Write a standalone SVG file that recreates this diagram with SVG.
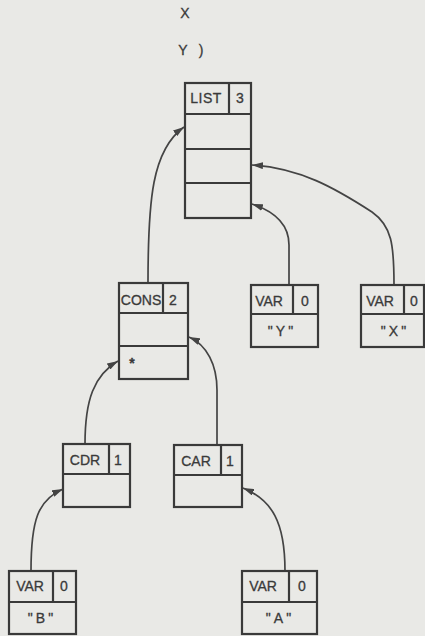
<svg xmlns="http://www.w3.org/2000/svg" width="425" height="636" viewBox="0 0 425 636">
<style>
.bg{fill:#e9e9e6}
.box{fill:none;stroke:#3a3a3a;stroke-width:2.2}
.div{stroke:#3a3a3a;stroke-width:2.2}
.t{font-family:"Liberation Sans",Arial,sans-serif;font-size:14px;fill:#3a3a3a;stroke:#3a3a3a;stroke-width:0.3;text-anchor:middle}
.q{letter-spacing:3px}
.c{fill:none;stroke:#444;stroke-width:1.7}
</style>
<defs>
<marker id="ah" markerUnits="userSpaceOnUse" markerWidth="12" markerHeight="7" refX="11" refY="3.5" orient="auto">
<path d="M0,0 L11,3.5 L0,7 Z" fill="#444"/>
</marker>
</defs>
<rect class="bg" x="0" y="0" width="425" height="636"/>
<g id="header">
<text class="t" x="185" y="18">X</text>
<text class="t" x="183" y="55">Y</text>
<text class="t" x="201" y="55">)</text>
</g>
<g id="connectors">
<path class="c" d="M148,283 C148,200 152,150 184,127" marker-end="url(#ah)"/>
<path class="c" d="M289,285 L289,245 C289,225 276,212 252,204" marker-end="url(#ah)"/>
<path class="c" d="M394,285 C394,245 392,226 372,212 C335,188 300,168 252,165" marker-end="url(#ah)"/>
<path class="c" d="M85,444 C85,400 94,375 118,361" marker-end="url(#ah)"/>
<path class="c" d="M217,445 L217,390 C217,365 207,345 189,337" marker-end="url(#ah)"/>
<path class="c" d="M31,571 C31,520 38,500 63,489" marker-end="url(#ah)"/>
<path class="c" d="M285,571 C285,522 272,500 243,488" marker-end="url(#ah)"/>
</g>
<g id="list3">
<rect class="box" x="185" y="83" width="66" height="135"/>
<line class="div" x1="185" y1="114" x2="251" y2="114"/>
<line class="div" x1="185" y1="149" x2="251" y2="149"/>
<line class="div" x1="185" y1="183" x2="251" y2="183"/>
<line class="div" x1="229" y1="83" x2="229" y2="114"/>
<text class="t" x="206" y="103" letter-spacing="0.5">LIST</text>
<text class="t" x="240" y="103">3</text>
</g>
<g id="cons2">
<rect class="box" x="119" y="283" width="69" height="96"/>
<line class="div" x1="119" y1="313" x2="188" y2="313"/>
<line class="div" x1="119" y1="346" x2="188" y2="346"/>
<line class="div" x1="163" y1="283" x2="163" y2="313"/>
<text class="t" x="141" y="305">CONS</text>
<text class="t" x="173" y="305">2</text>
<text class="t" x="132" y="368" font-weight="bold">*</text>
</g>
<g id="varY">
<rect class="box" x="251" y="285" width="67" height="62"/>
<line class="div" x1="251" y1="314" x2="318" y2="314"/>
<line class="div" x1="293" y1="285" x2="293" y2="314"/>
<text class="t" x="269" y="306">VAR</text>
<text class="t" x="305" y="306">0</text>
<text class="t q" x="282" y="336">"Y"</text>
</g>
<g id="varX">
<rect class="box" x="361" y="285" width="63" height="62"/>
<line class="div" x1="361" y1="314" x2="424" y2="314"/>
<line class="div" x1="404" y1="285" x2="404" y2="314"/>
<text class="t" x="380" y="306">VAR</text>
<text class="t" x="414" y="306">0</text>
<text class="t q" x="395" y="336">"X"</text>
</g>
<g id="cdr1">
<rect class="box" x="63" y="444" width="67" height="63"/>
<line class="div" x1="63" y1="474" x2="130" y2="474"/>
<line class="div" x1="109" y1="444" x2="109" y2="474"/>
<text class="t" x="85" y="465">CDR</text>
<text class="t" x="118" y="465">1</text>
</g>
<g id="car1">
<rect class="box" x="174" y="445" width="68" height="62"/>
<line class="div" x1="174" y1="475" x2="242" y2="475"/>
<line class="div" x1="221" y1="445" x2="221" y2="475"/>
<text class="t" x="196" y="466">CAR</text>
<text class="t" x="230" y="466">1</text>
</g>
<g id="varB">
<rect class="box" x="9" y="571" width="67" height="63"/>
<line class="div" x1="9" y1="602" x2="76" y2="602"/>
<line class="div" x1="53" y1="571" x2="53" y2="602"/>
<text class="t" x="30" y="591">VAR</text>
<text class="t" x="64" y="591">0</text>
<text class="t q" x="42" y="623">"B"</text>
</g>
<g id="varA">
<rect class="box" x="242" y="571" width="75" height="63"/>
<line class="div" x1="242" y1="602" x2="317" y2="602"/>
<line class="div" x1="289" y1="571" x2="289" y2="602"/>
<text class="t" x="263" y="591">VAR</text>
<text class="t" x="302" y="591">0</text>
<text class="t q" x="280" y="623">"A"</text>
</g>
</svg>
